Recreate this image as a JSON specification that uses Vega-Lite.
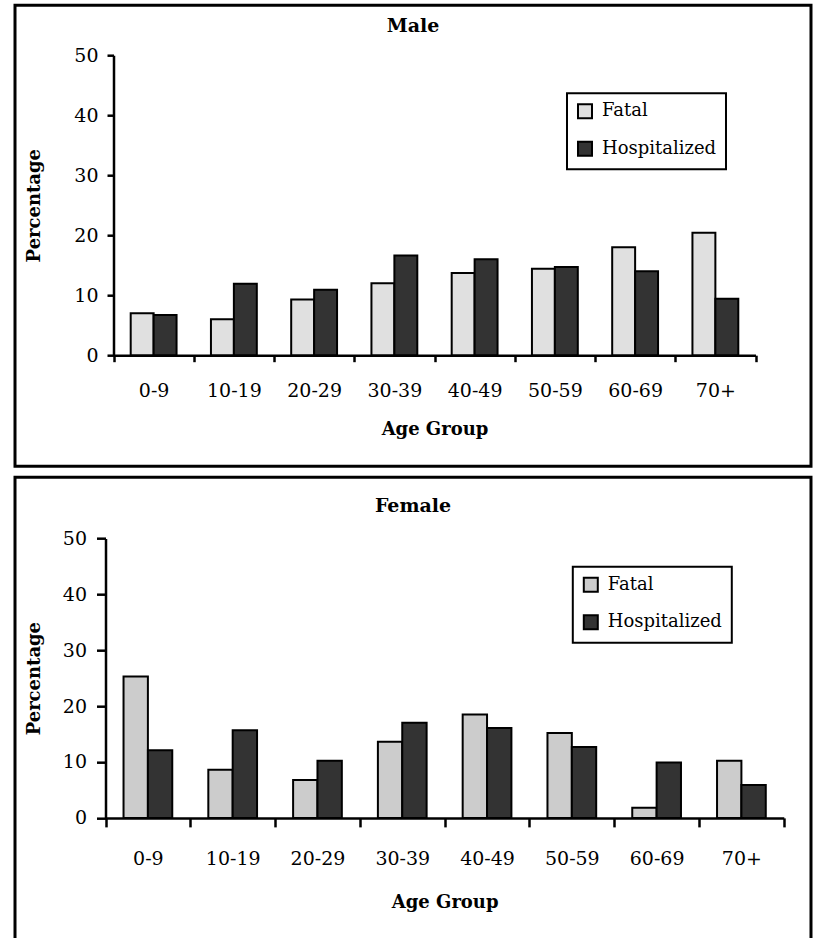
{
  "$schema": "https://vega.github.io/schema/vega-lite/v6.json",
  "background": "white",
  "padding": {"left": 13, "top": 3.2, "right": 0, "bottom": 0},
  "spacing": 7,
  "config": {
    "font": "DejaVu Serif",
    "view": {"stroke": "black", "strokeWidth": 3},
    "axis": {
      "domainColor": "black", "domainWidth": 2.5,
      "tickColor": "black", "tickWidth": 2.5,
      "labelColor": "black", "labelFont": "DejaVu Serif", "labelFontSize": 19,
      "titleColor": "black", "titleFont": "DejaVu Serif", "titleFontSize": 18, "titleFontWeight": "bold",
      "grid": false
    },
    "legend": {
      "title": null, "orient": "none",
      "labelFont": "DejaVu Serif", "labelFontSize": 18, "labelColor": "black",
      "symbolType": "square", "symbolSize": 196, "symbolStrokeColor": "black", "symbolStrokeWidth": 2,
      "symbolOpacity": 1, "labelOffset": 8, "padding": 9, "rowPadding": 15.5,
      "strokeColor": "black", "fillColor": "white"
    }
  },
  "resolve": {"scale": {"x": "independent", "y": "independent", "color": "independent", "xOffset": "independent"}, "legend": {"color": "independent"}},
  "vconcat": [
    {
      "width": 796, "height": 461,
      "title": {"text": "Male", "font": "DejaVu Serif", "fontSize": 19, "fontWeight": "bold", "color": "black", "anchor": "middle", "frame": "group", "offset": -31},
      "data": {"values": [
        {"age": "0-9", "type": "Fatal", "value": 7.0},
        {"age": "0-9", "type": "Hospitalized", "value": 6.7},
        {"age": "10-19", "type": "Fatal", "value": 6.0},
        {"age": "10-19", "type": "Hospitalized", "value": 11.9},
        {"age": "20-29", "type": "Fatal", "value": 9.3},
        {"age": "20-29", "type": "Hospitalized", "value": 10.9},
        {"age": "30-39", "type": "Fatal", "value": 12.0},
        {"age": "30-39", "type": "Hospitalized", "value": 16.6},
        {"age": "40-49", "type": "Fatal", "value": 13.7},
        {"age": "40-49", "type": "Hospitalized", "value": 16.0},
        {"age": "50-59", "type": "Fatal", "value": 14.4},
        {"age": "50-59", "type": "Hospitalized", "value": 14.7},
        {"age": "60-69", "type": "Fatal", "value": 18.0},
        {"age": "60-69", "type": "Hospitalized", "value": 14.0},
        {"age": "70+", "type": "Fatal", "value": 20.4},
        {"age": "70+", "type": "Hospitalized", "value": 9.4}
      ]},
      "mark": {"type": "bar", "stroke": "black", "strokeWidth": 2},
      "encoding": {
        "x": {"field": "age", "type": "nominal", "sort": null,
          "scale": {"range": [98.5, 740.5], "paddingInner": 0, "paddingOuter": 0},
          "axis": {"title": "Age Group", "offset": -111, "labelAngle": 0, "tickBand": "extent", "tickSize": 6.5, "labelPadding": 20, "titlePadding": 19.5}},
        "xOffset": {"field": "type", "type": "nominal", "scale": {"paddingOuter": 0.75, "paddingInner": 0}},
        "y": {"field": "value", "type": "quantitative",
          "scale": {"domain": [0, 50], "range": [350, 50], "nice": false, "zero": true},
          "axis": {"title": "Percentage", "values": [0, 10, 20, 30, 40, 50], "offset": -98.5, "tickSize": 6.5, "labelPadding": 9, "titlePadding": 30}},
        "color": {"field": "type", "type": "nominal",
          "scale": {"domain": ["Fatal", "Hospitalized"], "range": ["#e0e0e0", "#333333"]},
          "legend": {"legendX": 552, "legendY": 88, "encode": {"legend": {"update": {"strokeWidth": {"value": 2}}}}}}
      }
    },
    {
      "width": 796, "height": 470,
      "title": {"text": "Female", "font": "DejaVu Serif", "fontSize": 19, "fontWeight": "bold", "color": "black", "anchor": "middle", "frame": "group", "offset": -39},
      "data": {"values": [
        {"age": "0-9", "type": "Fatal", "value": 25.3},
        {"age": "0-9", "type": "Hospitalized", "value": 12.1},
        {"age": "10-19", "type": "Fatal", "value": 8.6},
        {"age": "10-19", "type": "Hospitalized", "value": 15.7},
        {"age": "20-29", "type": "Fatal", "value": 6.8},
        {"age": "20-29", "type": "Hospitalized", "value": 10.2},
        {"age": "30-39", "type": "Fatal", "value": 13.6},
        {"age": "30-39", "type": "Hospitalized", "value": 17.0},
        {"age": "40-49", "type": "Fatal", "value": 18.5},
        {"age": "40-49", "type": "Hospitalized", "value": 16.1},
        {"age": "50-59", "type": "Fatal", "value": 15.2},
        {"age": "50-59", "type": "Hospitalized", "value": 12.7},
        {"age": "60-69", "type": "Fatal", "value": 1.8},
        {"age": "60-69", "type": "Hospitalized", "value": 9.9},
        {"age": "70+", "type": "Fatal", "value": 10.2},
        {"age": "70+", "type": "Hospitalized", "value": 5.9}
      ]},
      "mark": {"type": "bar", "stroke": "black", "strokeWidth": 2},
      "encoding": {
        "x": {"field": "age", "type": "nominal", "sort": null,
          "scale": {"range": [90.5, 768.8], "paddingInner": 0, "paddingOuter": 0},
          "axis": {"title": "Age Group", "offset": -129.3, "labelAngle": 0, "tickBand": "extent", "tickSize": 9, "labelPadding": 23, "titlePadding": 25}},
        "xOffset": {"field": "type", "type": "nominal", "scale": {"paddingOuter": 0.74, "paddingInner": 0}},
        "y": {"field": "value", "type": "quantitative",
          "scale": {"domain": [0, 50], "range": [340.7, 61.2], "nice": false, "zero": true},
          "axis": {"title": "Percentage", "values": [0, 10, 20, 30, 40, 50], "offset": -90.5, "tickSize": 9, "labelPadding": 10, "titlePadding": 19}},
        "color": {"field": "type", "type": "nominal",
          "scale": {"domain": ["Fatal", "Hospitalized"], "range": ["#cccccc", "#333333"]},
          "legend": {"legendX": 557.8, "legendY": 89.5, "encode": {"legend": {"update": {"strokeWidth": {"value": 2}}}}}}
      }
    }
  ]
}
